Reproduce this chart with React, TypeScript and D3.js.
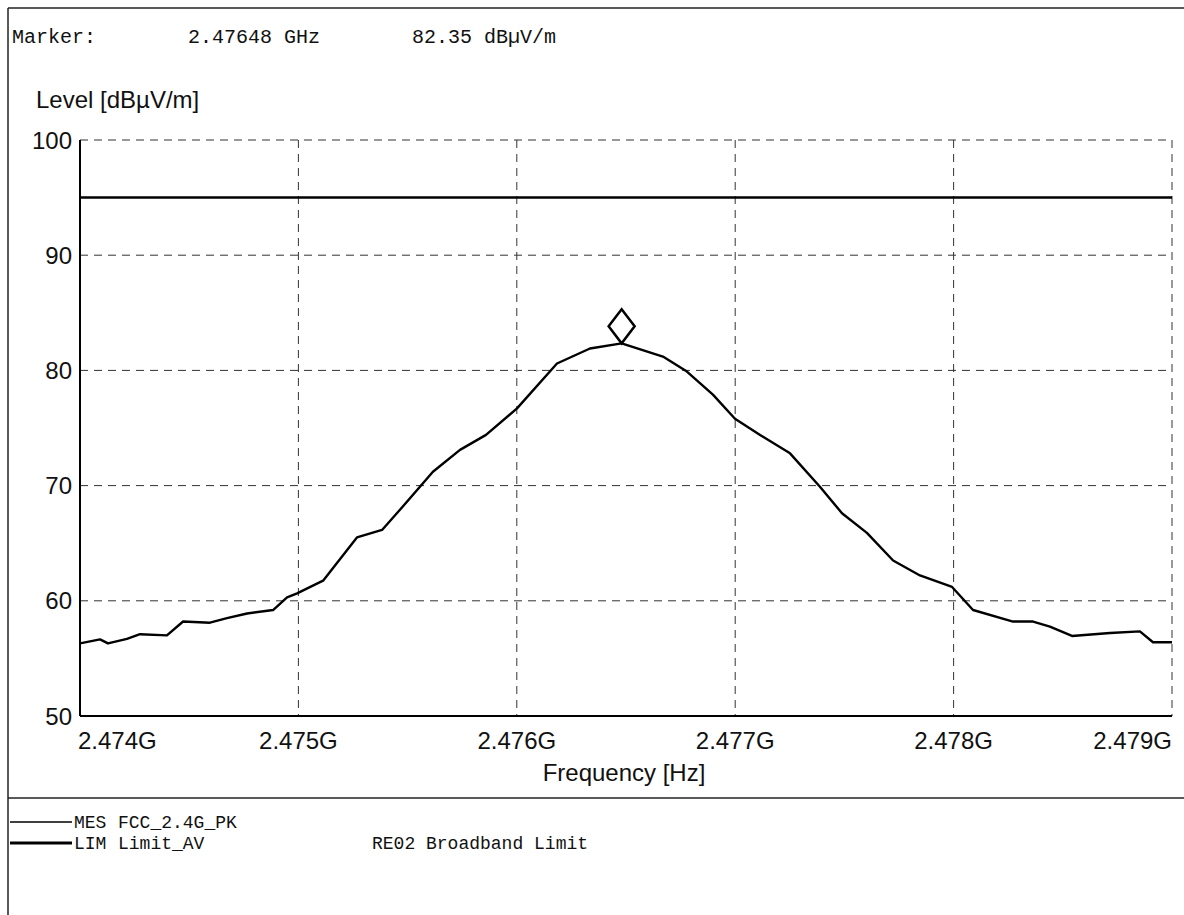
import * as d3 from "d3";

const traceFreq = [
  2.474, 2.474092, 2.474128, 2.474215, 2.474275, 2.474398, 2.474472, 2.474595, 2.474673, 2.474765,
  2.474884, 2.474948, 2.474994, 2.475113, 2.475268, 2.475383, 2.475465, 2.475616, 2.47574, 2.475859,
  2.476001, 2.476184, 2.476335, 2.47648, 2.476669, 2.476779, 2.476898, 2.476999, 2.477114, 2.477251,
  2.477388, 2.477489, 2.477603, 2.477723, 2.477846, 2.477993, 2.478089, 2.478272, 2.478364, 2.478441,
  2.478542, 2.478716, 2.478853, 2.478913, 2.479,
];
const traceLevel = [
  56.3, 56.65, 56.3, 56.7, 57.1, 57.0, 58.2, 58.1, 58.5, 58.9,
  59.2, 60.3, 60.65, 61.75, 65.5, 66.15, 67.9, 71.2, 73.1, 74.4,
  76.7, 80.6, 81.9, 82.35, 81.2, 79.9, 77.9, 75.8, 74.4, 72.8,
  69.9, 67.6, 65.9, 63.5, 62.2, 61.2, 59.2, 58.2, 58.2, 57.75,
  56.95, 57.2, 57.35, 56.4, 56.4,
];
const limitFreq = [2.474, 2.479];
const limitLevel = [95, 95];
const markerFreq = 2.47648;
const markerLevel = 82.35;

const xTicks = [2.474, 2.475, 2.476, 2.477, 2.478, 2.479];
const xTickLabels = ["2.474G", "2.475G", "2.476G", "2.477G", "2.478G", "2.479G"];
const yTicks = [50, 60, 70, 80, 90, 100];

const W = 1184, H = 915;
const mono = "'Liberation Mono', 'Courier New', monospace";
const sans = "'Liberation Sans', Arial, sans-serif";

export default function App() {
  const x = d3.scaleLinear().domain([2.474, 2.479]).range([80, 1172]);
  const y = d3.scaleLinear().domain([50, 100]).range([716, 140]);
  const line = d3.line<[number, number]>().x(d => x(d[0])).y(d => y(d[1]));
  const trace = traceFreq.map((f, i) => [f, traceLevel[i]] as [number, number]);
  const limit = limitFreq.map((f, i) => [f, limitLevel[i]] as [number, number]);
  const mx = x(markerFreq), my = y(markerLevel);
  const [x0, x1] = x.range();
  const [y0, y1] = y.range();

  return (
    <>
      <style>{`body{margin:0;background:#fff}`}</style>
      <svg width={W} height={H} style={{ display: "block", background: "#fff" }}>
        {/* outer frame */}
        <line x1={8} x2={W} y1={8} y2={8} stroke="#222" strokeWidth={1.5} />
        <line x1={8} x2={8} y1={8} y2={H} stroke="#222" strokeWidth={1.5} />
        <line x1={8} x2={W} y1={798} y2={798} stroke="#222" strokeWidth={1.5} />

        {/* header */}
        <g fontFamily={mono} fontSize={20} fill="#111">
          <text x={12} y={43}>Marker:</text>
          <text x={188} y={43}>2.47648 GHz</text>
          <text x={412} y={43}>82.35 dBµV/m</text>
        </g>
        <text x={36} y={108} fontFamily={sans} fontSize={24} fill="#111">Level [dBµV/m]</text>

        {/* grid */}
        <g stroke="#333" strokeWidth={1} strokeDasharray="8,6">
          {yTicks.filter(t => t > 50).map(t => (
            <line key={t} x1={x0} x2={x1} y1={y(t)} y2={y(t)} />
          ))}
          {xTicks.filter(t => t > 2.474).map(t => (
            <line key={t} x1={x(t)} x2={x(t)} y1={y1} y2={y0} />
          ))}
        </g>

        {/* axes */}
        <line x1={x0} x2={x0} y1={y1} y2={y0} stroke="#000" strokeWidth={2} />
        <line x1={x0} x2={x1} y1={y0} y2={y0} stroke="#000" strokeWidth={2} />

        {/* y tick labels */}
        <g fontFamily={sans} fontSize={24} fill="#111" textAnchor="end">
          {yTicks.map(t => (
            <text key={t} x={72} y={y(t)} dy="0.36em">{t}</text>
          ))}
        </g>

        {/* x tick labels */}
        <g fontFamily={sans} fontSize={24} fill="#111">
          {xTicks.map((t, i) => (
            <text key={t} x={i === 0 ? x0 - 2 : i === xTicks.length - 1 ? x1 : x(t)} y={749}
              textAnchor={i === 0 ? "start" : i === xTicks.length - 1 ? "end" : "middle"}>
              {xTickLabels[i]}
            </text>
          ))}
        </g>
        <text x={624} y={781} fontFamily={sans} fontSize={24} fill="#111" textAnchor="middle">Frequency [Hz]</text>

        {/* limit and trace */}
        <path d={line(limit) ?? ""} fill="none" stroke="#000" strokeWidth={2.5} />
        <path d={line(trace) ?? ""} fill="none" stroke="#000" strokeWidth={2.4} strokeLinejoin="round" />

        {/* marker diamond */}
        <path d={`M${mx},${my - 34} L${mx + 13},${my - 17} L${mx},${my} L${mx - 13},${my - 17} Z`}
          fill="none" stroke="#000" strokeWidth={2.5} />

        {/* legend */}
        <g fontFamily={mono} fontSize={18} fill="#111">
          <line x1={10} x2={72} y1={822} y2={822} stroke="#000" strokeWidth={1.5} />
          <text x={74} y={828}>MES</text>
          <text x={118} y={828}>FCC_2.4G_PK</text>
          <line x1={10} x2={72} y1={843} y2={843} stroke="#000" strokeWidth={3} />
          <text x={74} y={849}>LIM</text>
          <text x={118} y={849}>Limit_AV</text>
          <text x={372} y={849}>RE02 Broadband Limit</text>
        </g>
      </svg>
    </>
  );
}
